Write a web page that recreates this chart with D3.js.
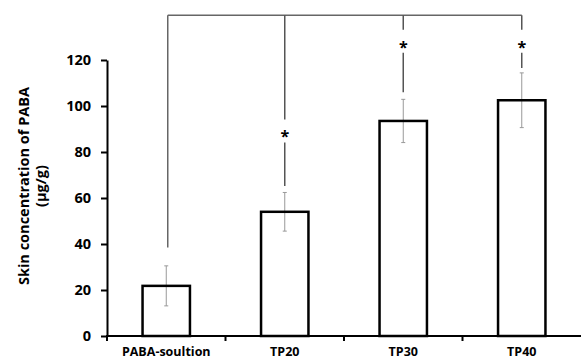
<!DOCTYPE html>
<html>
<head>
<meta charset="utf-8">
<script src="https://cdn.jsdelivr.net/npm/d3@7"></script>
<style>
  html, body { margin: 0; padding: 0; background: #fff; }
  svg { display: block; }
  text { font-family: "Open Sans", sans-serif; font-weight: bold; fill: #000; }
</style>
</head>
<body>
<svg id="chart" width="581" height="360"></svg>
<script>
// ---- data ----
const categories = ["PABA-soultion", "TP20", "TP30", "TP40"];
const means = [21.8, 54, 93.5, 102.5];
const errors = [8.7, 8.4, 9.4, 11.9];
const yTicks = [0, 20, 40, 60, 80, 100, 120];
const yLabelLines = ["Skin concentration of PABA", "(\u03bcg/g)"];
// significance annotation (data units)
const bracketLevel = 139.5;
const sigMarks = ["", "*", "*", "*"];
const starLevel = [null, 88.5, 127.5, 127.5];
const lineEnd = [38.5, 65.2, 106, 116.5];

(function () {
// ---- layout ----
const svg = d3.select("#chart");
const mLeft = 107, mRight = 581, mTop = 60, mBottom = 336;

const x = d3.scaleBand().domain(categories).range([mLeft, mRight])
  .paddingInner(0.6).paddingOuter(0.3);
const y = d3.scaleLinear().domain([0, 120]).range([mBottom, mTop]);
const step = x.step();

// bracket
const g = svg.append("g");
const cx = d => x(d) + x.bandwidth() / 2;
g.append("line")
  .attr("x1", cx(categories[0]) + 1.5).attr("x2", cx(categories[3]))
  .attr("y1", y(bracketLevel)).attr("y2", y(bracketLevel))
  .attr("stroke", "#666").attr("stroke-width", 1.5);

categories.forEach((c, i) => {
  const xx = cx(c) + (i === 0 ? 1.5 : 0);
  if (starLevel[i] == null) {
    g.append("line").attr("x1", xx).attr("x2", xx)
      .attr("y1", y(bracketLevel)).attr("y2", y(lineEnd[i]))
      .attr("stroke", "#666").attr("stroke-width", 1.5);
  } else {
    const sy = y(starLevel[i]);
    g.append("line").attr("x1", xx).attr("x2", xx)
      .attr("y1", y(bracketLevel)).attr("y2", sy - 13)
      .attr("stroke", "#555").attr("stroke-width", 1.5);
    g.append("line").attr("x1", xx).attr("x2", xx)
      .attr("y1", sy + 10).attr("y2", y(lineEnd[i]))
      .attr("stroke", "#555").attr("stroke-width", 1.5);
    g.append("text").attr("x", xx).attr("y", sy + 10)
      .attr("text-anchor", "middle").style("font-size", "16px")
      .text(sigMarks[i]);
  }
});

// error bars
const eb = svg.append("g").attr("stroke", "#999").attr("stroke-width", 1);
categories.forEach((c, i) => {
  const xx = cx(c);
  const y1 = y(means[i] + errors[i]), y2 = y(means[i] - errors[i]);
  eb.append("line").attr("x1", xx).attr("x2", xx).attr("y1", y1).attr("y2", y2);
  eb.append("line").attr("x1", xx - 2).attr("x2", xx + 2).attr("y1", y1).attr("y2", y1);
  eb.append("line").attr("x1", xx - 2).attr("x2", xx + 2).attr("y1", y2).attr("y2", y2);
});

// bars
svg.append("g").selectAll("rect").data(categories).join("rect")
  .attr("x", d => x(d))
  .attr("y", (d, i) => y(means[i]))
  .attr("width", x.bandwidth())
  .attr("height", (d, i) => y(0) - y(means[i]))
  .attr("fill", "none").attr("stroke", "#000").attr("stroke-width", 2.5);

// y axis
const yAxis = svg.append("g").attr("transform", `translate(${mLeft},0)`)
  .call(d3.axisLeft(y).tickValues(yTicks).tickSize(6).tickSizeOuter(0).tickPadding(10));
yAxis.select(".domain").attr("stroke", "#000").attr("stroke-width", 2);
yAxis.selectAll(".tick line").attr("stroke", "#000").attr("stroke-width", 2);
yAxis.selectAll(".tick text").style("font-size", "14.5px")
  .style("font-family", "'Open Sans', sans-serif").style("font-weight", "bold");

// x axis
const xAxis = svg.append("g");
xAxis.append("line").attr("x1", mLeft - 1).attr("x2", mRight)
  .attr("y1", y(0)).attr("y2", y(0)).attr("stroke", "#000").attr("stroke-width", 2);
const bounds = categories.map(c => x(c) - step * x.paddingInner() / 2);
xAxis.selectAll("line.tk").data(bounds).join("line").attr("class", "tk")
  .attr("x1", d => d).attr("x2", d => d)
  .attr("y1", y(0)).attr("y2", y(0) + 5)
  .attr("stroke", "#000").attr("stroke-width", 2);
xAxis.selectAll("text").data(categories).join("text")
  .attr("x", d => cx(d)).attr("y", 356)
  .attr("text-anchor", "middle").style("font-size", "12.5px")
  .text(d => d);

// y label
const yl = svg.append("text")
  .attr("transform", "translate(0,186) rotate(-90)")
  .attr("text-anchor", "middle").style("font-size", "14.5px");
yl.append("tspan").attr("x", 0).attr("y", 29).text(yLabelLines[0]);
yl.append("tspan").attr("x", 0).attr("y", 46).text(yLabelLines[1]);
})();
</script>
</body>
</html>
